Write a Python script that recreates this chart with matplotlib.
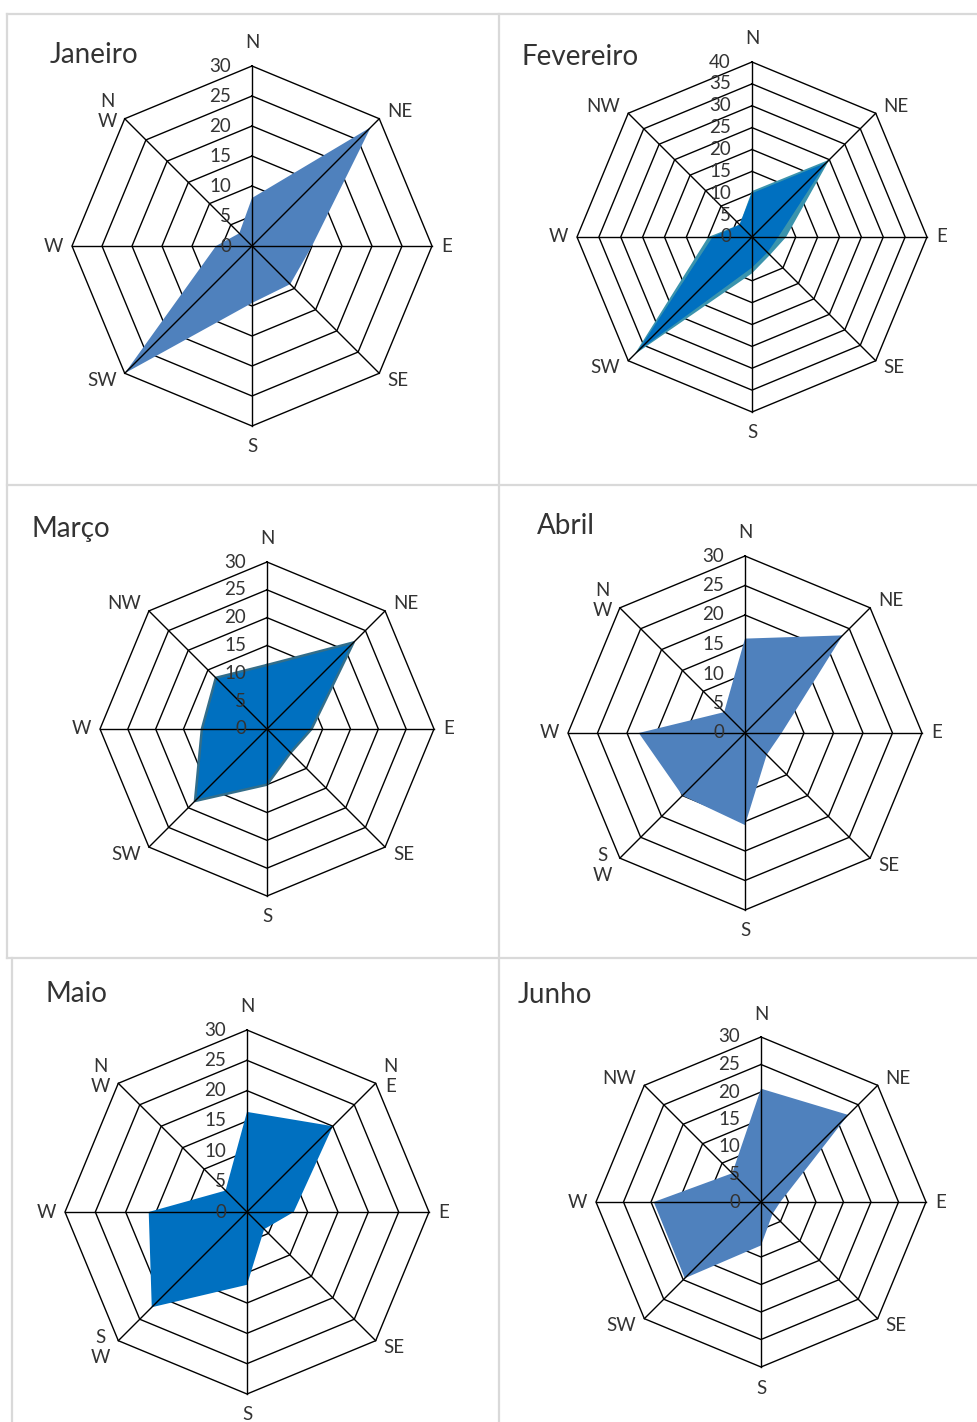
## Rosa dos ventos - Janeiro a Junho

import numpy as np
import matplotlib
matplotlib.use('Agg')
import matplotlib.pyplot as plt

plt.rcParams['font.family'] = ['Lato', 'DejaVu Sans']

### Dados
direcoes = ['N', 'NE', 'E', 'SE', 'S', 'SW', 'W', 'NW']

jan = [8, 28, 10, 9, 9.5, 30, 6, 3]
fev_teal = [10.5, 25, 7.8, 5.8, 8.3, 38, 10, 4]
fev_azul = [10, 24, 6, 5, 7, 37, 9, 4]
mar = [11.5, 22, 8, 6, 10, 18.3, 11.7, 13]
abr = [16, 23.4, 6.2, 5.2, 15.6, 15, 18, 5]
mai = [16.5, 20, 7.7, 4, 12, 22.2, 16.2, 5]
jun = [20.6, 22.4, 3.5, 3, 7.9, 19.6, 19.5, 7.4]

## rotulos (o Excel quebra alguns em duas linhas)
rot_jan = ['N', 'NE', 'E', 'SE', 'S', 'SW', 'W', 'N\nW']
rot_fev = direcoes
rot_mar = direcoes
rot_abr = ['N', 'NE', 'E', 'SE', 'S', 'S\nW', 'W', 'N\nW']
rot_mai = ['N', 'N\nE', 'E', 'SE', 'S', 'S\nW', 'W', 'N\nW']
rot_jun = direcoes

### Figura
W, H = 977, 1422
fig = plt.figure(figsize=(W / 100, H / 100), dpi=100)
fig.patch.set_facecolor('white')

cor_txt = '#333333'
cor_borda = '#D9D9D9'

## bordas dos paineis (em pixels)
def linha(x0, y0, x1, y1):
    fig.add_artist(plt.Line2D([x0 / W, x1 / W], [1 - y0 / H, 1 - y1 / H],
                              color=cor_borda, lw=1.6, transform=fig.transFigure))

linha(7, 14, 977, 14)
linha(7, 14, 7, 958)
linha(12, 958, 12, 1422)
linha(499, 14, 499, 1422)
linha(7, 485, 977, 485)
linha(7, 958, 977, 958)

theta = np.deg2rad(np.arange(8) * 45)
theta_f = np.append(theta, theta[0])


def radar(cx, cy, R, rmax, series, rotulos, titulo, tx, ty):
    ax = fig.add_axes([(cx - R) / W, 1 - (cy + R) / H, 2 * R / W, 2 * R / H],
                      projection='polar')
    ax.set_theta_zero_location('N')
    ax.set_theta_direction(-1)
    ax.set_ylim(0, rmax)
    ax.axis('off')

    niveis = np.arange(0, rmax + 1, 5)
    # aneis (octogonos) por baixo do preenchimento
    for r in niveis[1:]:
        ax.plot(theta_f, [r] * 9, color='black', lw=1.0, zorder=1, clip_on=False)

    for vals, cor, borda in series:
        v = np.append(vals, vals[0])
        ax.fill(theta_f, v, color=cor, lw=0, zorder=2, clip_on=False)
        if borda is not None:
            ax.plot(theta_f, v, color=borda, lw=1.8, zorder=2.5, clip_on=False)

    # eixos por cima
    for a in theta:
        ax.plot([a, a], [0, rmax], color='black', lw=1.0, zorder=3, clip_on=False)

    # valores do eixo
    for r in niveis:
        ax.annotate(str(r), xy=(0, r), xytext=(-21, 0), textcoords='offset pixels',
                    ha='right', va='center', fontsize=13.5, color=cor_txt,
                    zorder=4, annotation_clip=False)

    # direcoes
    for a, lab in zip(theta, rotulos):
        s, c = np.sin(a), np.cos(a)
        if abs(s) < 0.1:
            off = (0, 23 * np.sign(c) if c > 0 else 21 * np.sign(c))
            ha = 'center'
        elif abs(c) < 0.1:
            off = (9 * np.sign(s), 0)
            ha = 'left' if s > 0 else 'right'
        else:
            off = (8 * np.sign(s), 7 * np.sign(c))
            ha = 'left' if s > 0 else 'right'
        ax.annotate(lab, xy=(a, rmax), xytext=off, textcoords='offset pixels',
                    ha=ha, va='center', multialignment='center', fontsize=13.5,
                    color=cor_txt, annotation_clip=False, linespacing=1.2)

    fig.text(tx / W, 1 - ty / H, titulo, ha='left', va='baseline',
             fontsize=20, color=cor_txt)
    return ax


radar(252, 246, 180, 30, [(jan, '#4F81BD', None)], rot_jan, 'Janeiro', 50, 63)
radar(752, 237, 175, 40, [(fev_teal, '#3B94AD', None), (fev_azul, '#0070C0', None)],
      rot_fev, 'Fevereiro', 521, 65)
radar(267, 729, 167, 30, [(mar, '#0070C0', '#336E8A')], rot_mar, 'Março', 32, 537)
radar(745, 733, 177, 30, [(abr, '#4F81BD', None)], rot_abr, 'Abril', 537, 534)
radar(247, 1212, 182, 30, [(mai, '#0070C0', None)], rot_mai, 'Maio', 45, 1002)
radar(761, 1202, 165, 30, [(jun, '#4F81BD', None)], rot_jun, 'Junho', 518, 1003)

fig.savefig('out.png', dpi=100, facecolor='white')
